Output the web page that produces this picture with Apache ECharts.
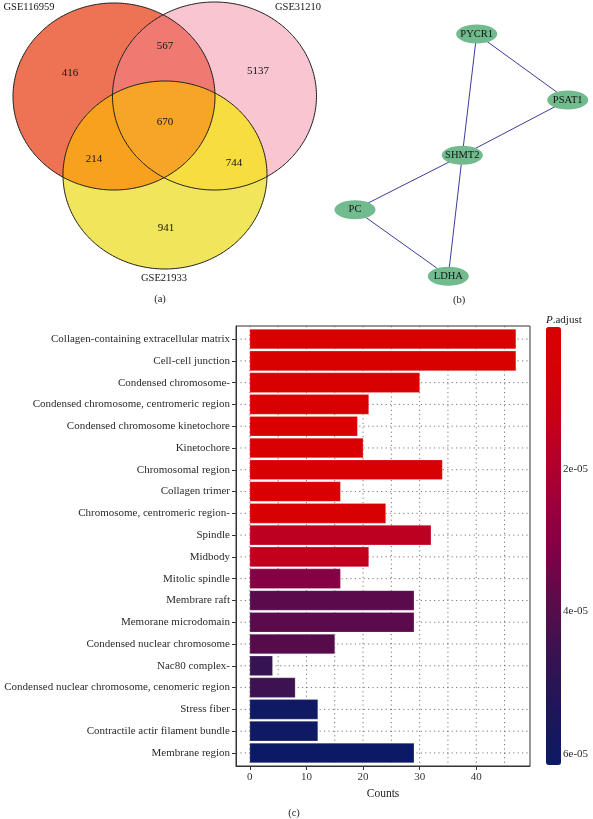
<!DOCTYPE html>
<html><head><meta charset="utf-8">
<script src="https://cdn.jsdelivr.net/npm/echarts@6/dist/echarts.min.js"></script>
<style>html,body{margin:0;padding:0;background:#fff}#c{width:593px;height:819px}</style>
</head><body><div id="c"></div>
<script>
// ---------- DATA ----------
// (a) Venn diagram
const vennSets = ['GSE116959', 'GSE31210', 'GSE21933'];
const vennRegions = ['A', 'AB', 'B', 'ABC', 'AC', 'BC', 'C'];
const vennCounts = [416, 567, 5137, 670, 214, 744, 941];

// (b) PPI network
const geneNodes = ['PYCR1', 'PSAT1', 'SHMT2', 'PC', 'LDHA'];
const geneLinks = [['PYCR1', 'SHMT2'], ['PYCR1', 'PSAT1'], ['PSAT1', 'SHMT2'], ['SHMT2', 'PC'], ['SHMT2', 'LDHA'], ['PC', 'LDHA']];

// (c) GO cellular component enrichment
const categories = [
  'Collagen-containing extracellular matrix',
  'Cell-cell junction',
  'Condensed chromosome-',
  'Condensed chromosome, centromeric region',
  'Condensed chromosome kinetochore',
  'Kinetochore',
  'Chromosomal region',
  'Collagen trimer',
  'Chromosome, centromeric region-',
  'Spindle',
  'Midbody',
  'Mitolic spindle',
  'Membrare raft',
  'Memorane microdomain',
  'Condensed nuclear chromosome',
  'Nac80 complex-',
  'Condensed nuclear chromosome, cenomeric region',
  'Stress fiber',
  'Contractile actir filament bundle',
  'Membrane region'
];
const counts = [47, 47, 30, 21, 19, 20, 34, 16, 24, 32, 21, 16, 29, 29, 15, 4, 8, 12, 12, 29];
const padj = [6e-8, 3e-7, 8e-7, 1.5e-6, 2e-6, 2.2e-6, 2.5e-6, 3e-6, 4e-6, 1.6e-5, 1.5e-5, 3.0e-5,
              3.9e-5, 3.9e-5, 4.0e-5, 4.7e-5, 4.5e-5, 6.0e-5, 6.0e-5, 6.16e-5];
const countTicks = [0, 10, 20, 30, 40];
const countGrid = [0, 5, 10, 15, 20, 25, 30, 35, 40, 45];
const padjTicks = [2e-5, 4e-5, 6e-5];

// ---------- LAYOUT / STYLE ----------
const FONT = "'Liberation Serif', 'DejaVu Serif', serif";
const ellipseLayout = [[114, 96.5, 101, 93.5], [214.5, 96, 102, 94], [165, 175, 102, 94]];
const setLabelPos = [[29, 7.5], [298, 7.5], [164, 278.5]];
const regionLabelPos = {A: [70, 73], AB: [165, 46], B: [258, 71], ABC: [165, 122], AC: [94, 159], BC: [234, 163], C: [166, 228]};
const regionFill = {A: '#ee7254', B: '#f9c5d1', C: '#f1e55b', AB: '#f07a72', AC: '#f8a11e', BC: '#f7dd3f', ABC: '#f7a526'};
const nodeLayout = [[476.7, 34], [567.7, 100], [462.3, 155.3], [355, 209.7], [448.3, 276.3]];
const padjColors = ['#d90000', '#d60004', '#c90014', '#b4002a', '#9c003a', '#830045',
                    '#650849', '#46104e', '#2c1454', '#1a175c', '#0c1a66'];

// ---------- GEOMETRY HELPERS ----------
function ellipsePoly(e, n) {
  const pts = [];
  for (let i = 0; i < n; i++) {
    const t = 2 * Math.PI * i / n;
    pts.push([e[0] + e[2] * Math.cos(t), e[1] + e[3] * Math.sin(t)]);
  }
  return pts;
}
function side(a, b, p) { return (b[0] - a[0]) * (p[1] - a[1]) - (b[1] - a[1]) * (p[0] - a[0]); }
function polyArea(P) { let s = 0; for (let i = 0; i < P.length; i++) { const a = P[i], b = P[(i + 1) % P.length]; s += a[0] * b[1] - b[0] * a[1]; } return s; }
function clip(subject, clipPoly) {
  const sg = Math.sign(polyArea(clipPoly));
  let out = subject;
  for (let i = 0; i < clipPoly.length; i++) {
    const a = clipPoly[i], b = clipPoly[(i + 1) % clipPoly.length];
    const inp = out; out = [];
    if (!inp.length) break;
    for (let j = 0; j < inp.length; j++) {
      const p = inp[j], q = inp[(j + 1) % inp.length];
      const dp = side(a, b, p) * sg, dq = side(a, b, q) * sg;
      const inter = () => { const t = dp / (dp - dq); return [p[0] + t * (q[0] - p[0]), p[1] + t * (q[1] - p[1])]; };
      if (dq >= 0) { if (dp < 0) out.push(inter()); out.push(q); }
      else if (dp >= 0) out.push(inter());
    }
  }
  return out;
}
const EP = ellipseLayout.map(e => ellipsePoly(e, 360));
const vennShapes = [
  {poly: EP[0], fill: regionFill.A},
  {poly: EP[1], fill: regionFill.B},
  {poly: EP[2], fill: regionFill.C},
  {poly: clip(EP[0], EP[1]), fill: regionFill.AB},
  {poly: clip(EP[0], EP[2]), fill: regionFill.AC},
  {poly: clip(EP[1], EP[2]), fill: regionFill.BC},
  {poly: clip(clip(EP[0], EP[1]), EP[2]), fill: regionFill.ABC}
];
const vennTexts = [];
vennSets.forEach((s, i) => vennTexts.push({text: s, pos: setLabelPos[i], size: 10.5}));
vennRegions.forEach((r, i) => vennTexts.push({text: String(vennCounts[i]), pos: regionLabelPos[r], size: 11}));

const pMin = Math.min(...padj), pMax = Math.max(...padj);
const fmtP = v => { const s = Number(v).toExponential(0); return s.replace(/e([+-])(\d)$/, 'e$10$2'); };

const chart = echarts.init(document.getElementById('c'), null, {renderer: 'canvas'});
const option = {
  backgroundColor: '#fff',
  animation: false,
  textStyle: {fontFamily: FONT},
  grid: [
    {left: 236, top: 326, width: 294, height: 440, show: true, borderColor: '#333', borderWidth: 1, outerBoundsMode: 'none', containLabel: false},
    {left: 546, top: 327, width: 15, height: 438, show: false, outerBoundsMode: 'none', containLabel: false},
    {left: 0, top: 0, width: 593, height: 310, show: false, outerBoundsMode: 'none', containLabel: false}
  ],
  xAxis: [
    {gridIndex: 0, type: 'value', min: -2.45, max: 49.5,
     axisLine: {show: true, onZero: false, lineStyle: {color: '#333', width: 1}},
     axisTick: {show: true, customValues: countTicks, length: 4, lineStyle: {color: '#333'}},
     axisLabel: {customValues: countTicks, fontSize: 11, color: '#333', margin: 6, fontFamily: FONT},
     splitLine: {show: false},
     name: 'Counts', nameLocation: 'middle', nameGap: 20,
     nameTextStyle: {fontSize: 11.5, color: '#222', fontFamily: FONT}},
    {gridIndex: 1, type: 'value', min: 0, max: 1, show: false},
    {gridIndex: 2, type: 'value', min: 0, max: 593, show: false}
  ],
  yAxis: [
    {gridIndex: 0, type: 'value', min: 0.4, max: 20.6, inverse: true,
     axisLine: {show: true, onZero: false, lineStyle: {color: '#333', width: 1}},
     axisTick: {show: true, customValues: categories.map((c, i) => i + 1), length: 4, lineStyle: {color: '#333'}},
     axisLabel: {customValues: categories.map((c, i) => i + 1), formatter: v => categories[Math.round(v) - 1],
                 fontSize: 11, color: '#2a2a2a', margin: 6, fontFamily: FONT},
     splitLine: {show: false}},
    {gridIndex: 1, type: 'value', position: 'right', min: pMin, max: pMax, inverse: true,
     axisLine: {show: false},
     axisTick: {show: true, customValues: padjTicks, length: 3, lineStyle: {color: '#333'}},
     axisLabel: {customValues: padjTicks, formatter: fmtP, fontSize: 11, color: '#2a2a2a', margin: 2, fontFamily: FONT},
     splitLine: {show: false}},
    {gridIndex: 2, type: 'value', min: 0, max: 310, inverse: true, show: false}
  ],
  visualMap: {
    type: 'continuous', orient: 'vertical', left: 546, top: 327, itemWidth: 15, itemHeight: 438,
    padding: 0, inverse: true, calculable: false, min: pMin, max: pMax, dimension: 2, seriesIndex: 6,
    inRange: {color: padjColors}, text: null, hoverLink: false
  },
  graphic: [
    {type: 'text', x: 546, y: 320, style: {text: '{i|P}.adjust', verticalAlign: 'middle', fontSize: 11, fontFamily: FONT, fill: '#222',
      rich: {i: {fontStyle: 'italic', fontSize: 11, fontFamily: FONT, fill: '#222'}}}},
    {type: 'text', x: 160, y: 299, style: {text: '(a)', align: 'center', verticalAlign: 'middle', fontSize: 10.5, fontFamily: FONT, fill: '#222'}},
    {type: 'text', x: 459, y: 300, style: {text: '(b)', align: 'center', verticalAlign: 'middle', fontSize: 10.5, fontFamily: FONT, fill: '#222'}},
    {type: 'text', x: 294, y: 813, style: {text: '(c)', align: 'center', verticalAlign: 'middle', fontSize: 10.5, fontFamily: FONT, fill: '#222'}}
  ],
  series: [
    // 0 venn fills
    {type: 'custom', xAxisIndex: 2, yAxisIndex: 2, silent: true,
     data: vennShapes.map((s, i) => [0, 0, i]),
     renderItem: (params, api) => {
       const s = vennShapes[params.dataIndex];
       return {type: 'polygon', shape: {points: s.poly.map(p => api.coord(p))}, style: {fill: s.fill, stroke: null}};
     }},
    // 1 venn outlines
    {type: 'custom', xAxisIndex: 2, yAxisIndex: 2, silent: true,
     data: EP.map((p, i) => [0, 0, i]),
     renderItem: (params, api) => ({type: 'polygon', shape: {points: EP[params.dataIndex].map(p => api.coord(p))},
       style: {fill: 'none', stroke: '#1c1c1c', lineWidth: 1}})},
    // 2 venn texts
    {type: 'custom', xAxisIndex: 2, yAxisIndex: 2, silent: true,
     data: vennTexts.map((t, i) => [0, 0, i]),
     renderItem: (params, api) => {
       const t = vennTexts[params.dataIndex]; const p = api.coord(t.pos);
       return {type: 'text', x: p[0], y: p[1], style: {text: t.text, align: 'center', verticalAlign: 'middle',
         fontSize: t.size, fontFamily: FONT, fill: '#141414'}};
     }},
    // 3 network
    {type: 'graph', coordinateSystem: 'cartesian2d', xAxisIndex: 2, yAxisIndex: 2, silent: true,
     symbol: 'path://M0,50 C0,22.4 22.4,0 50,0 C77.6,0 100,22.4 100,50 C100,77.6 77.6,100 50,100 C22.4,100 0,77.6 0,50 Z',
     symbolSize: [41, 19], symbolKeepAspect: false,
     itemStyle: {color: '#72bb8e'},
     label: {show: true, position: 'inside', fontSize: 10.5, color: '#111', fontFamily: FONT},
     lineStyle: {color: '#3d3d99', width: 1, opacity: 1, curveness: 0},
     emphasis: {disabled: true},
     data: geneNodes.map((n, i) => ({name: n, value: nodeLayout[i]})),
     links: geneLinks.map(l => ({source: l[0], target: l[1]}))},
    // 4 vertical dotted grid
    {type: 'custom', xAxisIndex: 0, yAxisIndex: 0, silent: true,
     data: countGrid.map(v => [v, 0.4]),
     renderItem: (params, api) => {
       const a = api.coord([api.value(0), 0.4]), b = api.coord([api.value(0), 20.6]);
       return {type: 'line', shape: {x1: a[0], y1: a[1], x2: b[0], y2: b[1]},
         style: {stroke: '#555', lineWidth: 0.8, lineDash: [1.2, 3.2]}};
     }},
    // 5 horizontal dotted grid
    {type: 'custom', xAxisIndex: 0, yAxisIndex: 0, silent: true,
     data: categories.map((c, i) => [0, i + 1]),
     renderItem: (params, api) => {
       const a = api.coord([-2.45, api.value(1)]), b = api.coord([49.5, api.value(1)]);
       return {type: 'line', shape: {x1: a[0], y1: a[1], x2: b[0], y2: b[1]},
         style: {stroke: '#555', lineWidth: 0.8, lineDash: [1.2, 3.2]}};
     }},
    // 6 bars
    {type: 'custom', xAxisIndex: 0, yAxisIndex: 0, silent: true,
     dimensions: ['count', 'idx', 'padj'], encode: {x: 0, y: 1},
     data: categories.map((c, i) => [counts[i], i + 1, padj[i]]),
     renderItem: (params, api) => {
       const v = api.value(0), idx = api.value(1);
       const p0 = api.coord([0, idx]), p1 = api.coord([v, idx]);
       const h = api.size([0, 1])[1] * 0.9;
       return {type: 'rect', shape: {x: p0[0], y: p0[1] - h / 2, width: p1[0] - p0[0], height: h},
         style: {fill: api.visual('color'), stroke: 'rgba(255,255,255,0.35)', lineWidth: 0.6}};
     }}
  ]
};
chart.setOption(option);
</script></body></html>
